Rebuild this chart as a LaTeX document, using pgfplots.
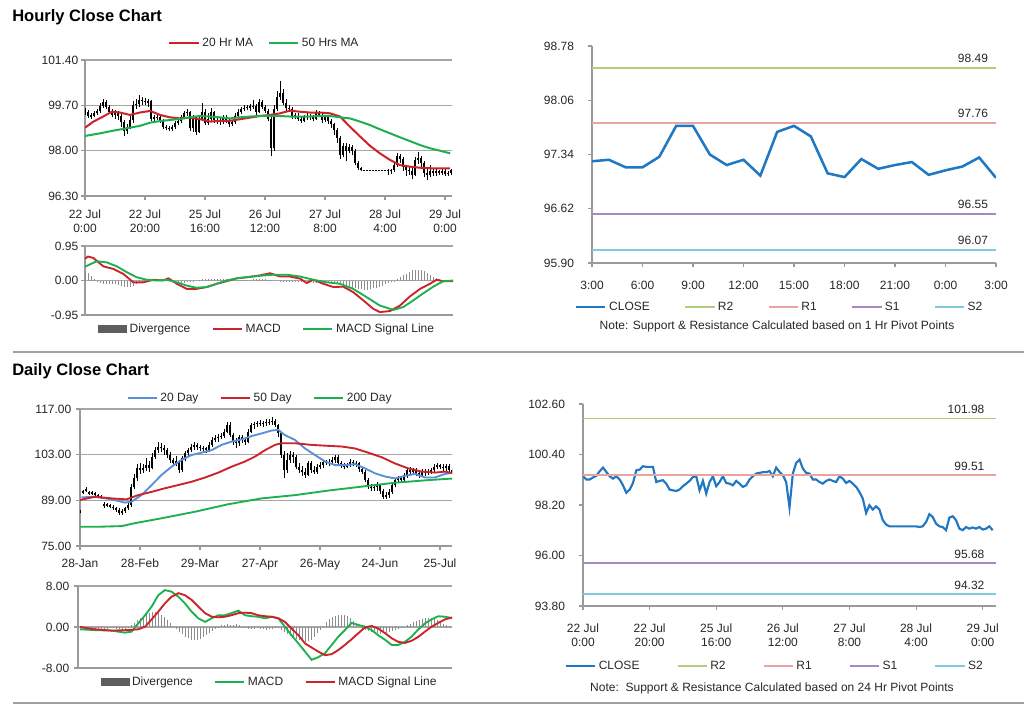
\documentclass[border=0pt]{standalone}
\usepackage{fontspec}
\setmainfont{Liberation Sans}
\usepackage{pgfplots}
\pgfplotsset{compat=1.18}
\usepackage{pgfplotstable}

\definecolor{gridc}{HTML}{A6A6A6}
\definecolor{axc}{HTML}{9A9A9A}
\definecolor{txt}{HTML}{262626}
\definecolor{mared}{HTML}{CC2229}
\definecolor{magreen}{HTML}{1DB04E}
\definecolor{mablue}{HTML}{5A8ED6}
\definecolor{closec}{HTML}{1F78C1}
\definecolor{r2c}{HTML}{B4CD7C}
\definecolor{r1c}{HTML}{E8A3A3}
\definecolor{s1c}{HTML}{A48AC4}
\definecolor{s2c}{HTML}{7FC8E0}
\definecolor{divc}{HTML}{8C8C8C}
\definecolor{divleg}{HTML}{5E5E5E}
\definecolor{sepc}{HTML}{A0A0A0}

\pgfplotsset{
  /pgf/number format/assume math mode=true,
  panel/.style={
    scale only axis, anchor=north west,
    axis x line*=bottom, axis y line*=left,
    axis line style={draw=axc, line width=0.8pt},
    tick style={draw=axc, line width=0.8pt},
    tick align=outside, major tick length=3pt,
    tick label style={font=\fontsize{9}{10.5}\selectfont, text=txt},
    legend style={draw=none, fill=none, font=\fontsize{9}{10.5}\selectfont, text=txt, inner sep=0pt},
    legend cell align=left, legend columns=-1,
    scaled ticks=false,
  },
  gridded/.style={ymajorgrids, grid style={draw=gridc, line width=0.8pt}},
  lg/.style={legend image code/.code={\draw[##1] (0pt,0pt) -- (22pt,0pt);}},
  barlg/.style={legend image code/.code={\fill[divleg] (0pt,-2.6pt) rectangle (21pt,2.6pt);}},
}

% hourly data: x close bodylow bodyhigh low high
\pgfplotstableread{
x c bl bh lo hi
0 99.45 99.45 99.50 99.35 99.60
1 99.31 99.31 99.45 99.22 99.52
2 99.31 99.28 99.34 99.20 99.42
3 99.40 99.31 99.40 99.25 99.50
4 99.47 99.40 99.47 99.33 99.58
5 99.67 99.47 99.67 99.40 99.78
6 99.83 99.67 99.83 99.60 99.92
7 99.64 99.64 99.83 99.55 99.90
8 99.45 99.45 99.64 99.36 99.70
9 99.35 99.35 99.45 99.25 99.55
10 99.45 99.35 99.45 99.20 99.52
11 99.31 99.31 99.45 99.15 99.50
12 99.06 99.06 99.31 98.90 99.40
13 98.73 98.73 99.06 98.55 99.15
14 98.87 98.73 98.87 98.62 99.00
15 99.16 98.87 99.16 98.80 99.30
16 99.71 99.16 99.71 99.05 99.85
17 99.74 99.71 99.74 99.55 99.95
18 99.89 99.74 99.89 99.65 100.10
19 99.86 99.86 99.89 99.70 100.00
20 99.86 99.84 99.88 99.70 99.98
21 99.86 99.80 99.86 99.65 99.95
22 99.20 99.20 99.86 99.10 99.90
23 99.25 99.20 99.25 99.12 99.35
24 99.28 99.25 99.28 99.15 99.38
25 99.13 99.13 99.28 99.05 99.35
26 98.87 98.87 99.13 98.80 99.20
27 98.84 98.84 98.87 98.78 98.95
28 98.81 98.81 98.84 98.75 98.92
29 98.87 98.81 98.87 98.75 98.95
30 99.02 98.87 99.02 98.80 99.10
31 99.13 99.02 99.13 98.95 99.20
32 99.25 99.13 99.25 99.05 99.35
33 99.42 99.25 99.42 99.20 99.50
34 99.45 99.42 99.45 99.30 99.55
35 98.84 98.84 99.45 98.75 99.50
36 99.25 98.84 99.25 98.70 99.35
37 98.70 98.70 99.25 98.60 99.30
38 99.20 98.70 99.20 98.65 99.30
39 99.45 99.20 99.45 99.10 99.80
40 99.02 99.02 99.45 98.95 99.55
41 99.20 99.02 99.20 98.95 99.40
42 99.45 99.20 99.45 99.10 99.60
43 99.16 99.16 99.45 99.05 99.50
44 99.13 99.13 99.16 99.00 99.30
45 99.06 99.06 99.13 98.98 99.25
46 99.25 99.06 99.25 99.00 99.35
47 99.13 99.13 99.25 99.05 99.32
48 98.99 98.99 99.13 98.90 99.20
49 99.06 98.99 99.06 98.92 99.15
50 99.31 99.06 99.31 99.00 99.40
51 99.45 99.31 99.45 99.25 99.55
52 99.57 99.45 99.57 99.38 99.65
53 99.60 99.57 99.60 99.50 99.70
54 99.63 99.60 99.63 99.52 99.72
55 99.63 99.60 99.66 99.50 99.75
56 99.68 99.63 99.68 99.55 99.90
57 99.45 99.45 99.68 99.35 99.75
58 99.83 99.45 99.83 99.40 99.95
59 99.64 99.64 99.83 99.55 99.90
60 99.50 99.50 99.64 99.40 99.70
61 99.20 99.20 99.50 99.10 99.55
62 98.09 98.09 99.20 97.80 99.25
63 99.57 98.09 99.57 98.00 99.70
64 100.03 99.57 100.03 99.50 100.25
65 100.18 100.03 100.18 99.90 100.62
66 99.79 99.79 100.18 99.70 100.30
67 99.60 99.60 99.79 99.50 99.95
68 99.57 99.57 99.60 99.45 99.70
69 99.31 99.31 99.57 99.20 99.62
70 99.31 99.28 99.34 99.18 99.42
71 99.20 99.20 99.31 99.12 99.40
72 99.13 99.13 99.20 99.05 99.30
73 99.25 99.13 99.25 99.08 99.35
74 99.31 99.25 99.31 99.15 99.40
75 99.25 99.25 99.31 99.15 99.38
76 99.20 99.20 99.25 99.10 99.32
77 99.45 99.20 99.45 99.15 99.52
78 99.35 99.35 99.45 99.25 99.50
79 99.16 99.16 99.35 99.05 99.40
80 99.25 99.16 99.25 99.08 99.32
81 99.13 99.13 99.25 99.00 99.30
82 98.99 98.99 99.13 98.85 99.20
83 98.77 98.77 98.99 98.60 99.05
84 98.48 98.48 98.77 98.30 98.85
85 97.85 97.85 98.48 97.70 98.55
86 98.19 97.85 98.19 97.75 98.30
87 98.00 98.00 98.19 97.60 98.30
88 98.14 98.00 98.14 97.90 98.25
89 98.00 98.00 98.14 97.85 98.20
90 97.54 97.54 98.00 97.45 98.05
91 97.35 97.35 97.54 97.28 97.60
92 97.27 97.27 97.35 97.22 97.40
93 97.27 97.26 97.28 97.25 97.29
94 97.27 97.26 97.28 97.25 97.29
95 97.27 97.26 97.28 97.25 97.29
96 97.27 97.26 97.28 97.25 97.29
97 97.27 97.26 97.28 97.25 97.29
98 97.27 97.26 97.28 97.25 97.29
99 97.27 97.26 97.28 97.25 97.29
100 97.27 97.26 97.28 97.25 97.29
101 97.24 97.24 97.27 97.10 97.30
102 97.27 97.24 97.27 97.12 97.32
103 97.46 97.27 97.46 97.20 97.55
104 97.80 97.46 97.80 97.40 97.90
105 97.68 97.68 97.80 97.55 97.88
106 97.39 97.39 97.68 97.25 97.75
107 97.27 97.27 97.39 97.05 97.45
108 97.24 97.24 97.27 97.10 97.40
109 97.10 97.10 97.24 96.95 97.35
110 97.65 97.10 97.65 97.05 97.75
111 97.71 97.65 97.71 97.50 97.95
112 97.54 97.54 97.71 97.40 97.80
113 97.17 97.17 97.54 97.00 97.60
114 97.10 97.10 97.17 96.90 97.30
115 97.24 97.10 97.24 97.00 97.45
116 97.17 97.17 97.24 97.05 97.35
117 97.22 97.17 97.22 97.05 97.30
118 97.17 97.17 97.22 97.08 97.28
119 97.24 97.17 97.24 97.10 97.30
120 97.13 97.13 97.24 97.05 97.30
121 97.17 97.13 97.17 97.05 97.25
122 97.27 97.17 97.27 97.10 97.32
123 97.10 97.10 97.27 97.02 97.30
}\hourly

% daily data: x bodylow bodyhigh low high
\pgfplotstableread{
x bl bh lo hi
0 85.3 85.7 85.0 86.0
1 91.2 91.8 90.8 92.2
2 91.8 92.5 91.5 93.0
3 91.0 91.6 90.7 92.0
4 91.0 91.5 90.6 91.9
5 90.6 91.2 90.3 91.6
6 90.3 90.6 90.0 91.0
7 89.9 90.3 89.5 90.7
8 87.3 88.0 86.8 88.5
9 87.3 87.8 86.9 88.3
10 87.1 87.6 86.6 88.0
11 86.5 87.1 86.0 87.6
12 86.0 86.5 85.5 87.0
13 85.2 86.0 84.5 86.5
14 85.2 85.6 84.6 86.4
15 85.6 86.5 85.2 87.0
16 86.5 87.5 86.0 88.5
17 87.5 93.0 87.0 94.0
18 93.0 95.7 92.5 97.0
19 95.7 98.8 95.0 100.0
20 98.3 98.8 97.0 100.5
21 98.3 99.0 97.5 100.2
22 99.0 99.8 98.0 102.0
23 99.0 99.8 97.8 101.0
24 99.0 102.4 98.5 103.5
25 102.4 104.4 101.8 105.5
26 104.4 105.5 103.5 106.8
27 104.9 105.5 103.8 106.5
28 104.4 104.9 103.0 106.0
29 103.0 104.4 102.0 105.0
30 101.4 103.0 100.5 103.8
31 100.3 101.4 99.5 102.0
32 100.3 101.0 99.5 102.5
33 98.3 101.0 97.5 101.5
34 98.3 101.9 97.8 102.5
35 101.9 103.4 101.0 104.0
36 103.4 104.4 102.5 105.0
37 104.4 105.5 103.8 106.2
38 105.5 106.0 104.5 106.8
39 105.5 106.0 104.5 106.5
40 105.0 105.5 104.0 106.0
41 104.9 105.0 103.8 105.8
42 104.4 104.9 103.5 105.5
43 104.4 106.0 103.8 107.0
44 106.0 107.5 105.5 108.5
45 107.5 108.0 106.8 109.0
46 108.0 108.5 107.0 109.2
47 108.5 108.7 107.8 109.5
48 108.7 110.1 108.0 111.0
49 110.1 112.1 109.5 113.0
50 109.0 112.1 108.5 113.0
51 107.0 109.0 106.0 109.5
52 106.5 107.0 105.0 108.0
53 106.5 108.5 105.8 109.0
54 107.5 108.5 106.5 109.0
55 107.0 107.5 106.0 108.2
56 107.0 110.1 106.5 111.0
57 110.1 112.1 109.5 112.8
58 112.1 112.4 111.0 113.0
59 112.4 112.6 111.5 113.2
60 112.6 112.8 111.8 113.5
61 112.6 112.8 111.5 113.4
62 112.6 113.1 111.8 114.0
63 112.8 113.1 112.0 113.8
64 113.1 113.4 112.0 114.5
65 112.1 113.4 111.5 114.0
66 109.5 112.1 108.5 112.5
67 103.0 109.5 102.0 110.0
68 98.3 103.0 96.0 104.0
69 98.3 101.4 97.5 103.5
70 101.4 103.0 100.5 104.0
71 102.4 103.0 100.5 103.8
72 99.3 102.4 98.5 103.0
73 98.3 99.3 97.5 100.5
74 97.8 98.3 96.5 99.5
75 96.8 97.8 96.0 99.0
76 96.8 100.3 96.5 101.0
77 98.3 100.3 97.5 101.0
78 97.8 98.3 97.0 99.5
79 97.8 99.3 97.2 100.0
80 99.3 99.8 98.5 100.8
81 99.8 100.9 99.0 101.5
82 100.5 100.9 99.8 101.5
83 100.5 100.9 99.5 101.8
84 100.9 101.4 100.0 102.2
85 101.4 102.4 100.5 103.0
86 100.3 102.4 99.5 102.8
87 99.8 100.3 99.0 101.0
88 99.3 99.8 98.5 100.5
89 99.3 99.8 98.8 100.5
90 99.8 100.9 99.2 101.8
91 100.3 100.9 99.5 101.5
92 100.0 100.3 99.2 101.0
93 98.5 100.3 97.8 100.8
94 97.8 98.5 97.0 99.0
95 95.2 97.8 94.5 98.2
96 93.2 95.2 92.5 95.8
97 92.7 93.2 91.8 94.0
98 92.7 93.2 92.0 94.0
99 93.2 93.7 92.0 94.5
100 92.0 93.7 91.0 94.0
101 90.1 92.0 89.5 92.5
102 90.1 90.6 89.5 91.5
103 90.6 91.6 89.8 92.5
104 91.6 93.7 91.0 94.5
105 93.7 95.2 93.0 95.8
106 95.2 95.7 94.5 96.5
107 95.2 95.7 94.5 96.2
108 95.2 96.8 94.8 97.5
109 96.8 98.3 96.0 99.0
110 97.8 98.3 97.0 99.2
111 97.8 98.3 96.8 99.0
112 97.3 98.3 96.5 98.8
113 96.8 97.3 96.0 98.0
114 96.8 97.8 96.2 98.5
115 97.3 97.8 96.5 98.5
116 97.3 97.8 96.8 98.6
117 97.8 98.3 97.0 99.0
118 98.3 99.3 97.8 100.0
119 99.3 99.8 98.5 100.5
120 99.3 99.8 98.5 100.2
121 98.8 99.3 98.0 100.0
122 98.8 99.5 98.0 100.2
123 98.3 99.5 97.8 100.0
124 97.8 98.3 97.0 98.8
}\daily

% hourly MACD divergence (one value per hour)
\pgfplotstableread{
d
0.25
0.20
0.12
0.04
-0.04
-0.08
-0.10
-0.11
-0.10
-0.10
-0.11
-0.13
-0.15
-0.17
-0.19
-0.18
-0.14
-0.10
-0.06
-0.03
0.0
-0.01
0.0
0.01
0.0
0.02
0.02
0.01
0.0
-0.02
-0.04
-0.06
-0.07
-0.06
-0.05
-0.04
-0.02
0.0
0.01
0.03
0.04
0.05
0.05
0.05
0.04
0.04
0.03
0.03
0.02
0.02
0.02
0.01
0.01
0.01
0.02
0.02
0.03
0.03
0.04
0.04
0.03
0.02
0.02
0.01
0.0
-0.01
-0.01
-0.02
-0.03
-0.03
-0.04
-0.05
-0.04
-0.04
-0.05
-0.05
-0.06
-0.06
-0.07
-0.07
-0.08
-0.05
-0.06
-0.08
-0.10
-0.12
-0.14
-0.16
-0.18
-0.20
-0.22
-0.23
-0.24
-0.25
-0.25
-0.24
-0.22
-0.20
-0.17
-0.14
-0.10
-0.07
-0.04
-0.01
0.04
0.09
0.14
0.19
0.24
0.28
0.30
0.30
0.28
0.25
0.21
0.16
0.11
0.07
0.04
0.02
0.01
0.0
0.0
}\hdiv

% daily MACD divergence (one value per day)
\pgfplotstableread{
d
-0.2
-0.3
-0.3
-0.3
-0.4
-0.4
-0.4
-0.3
-0.3
-0.3
-0.2
-0.2
-0.3
-0.4
-0.5
-0.4
-0.2
0.3
0.8
1.3
1.8
2.2
2.5
2.7
2.9
3.0
2.8
2.4
1.9
1.3
0.7
0.2
-0.4
-0.9
-1.4
-1.9
-2.2
-2.5
-2.6
-2.5
-2.3
-2.0
-1.6
-1.2
-0.8
-0.4
-0.1
0.3
0.4
0.5
0.4
0.4
0.5
0.3
-0.1
-0.2
-0.3
-0.4
-0.3
-0.2
-0.3
-0.4
-0.5
-0.4
-0.3
-0.2
-0.2
-0.5
-0.9
-1.3
-1.7
-2.0
-2.3
-2.5
-2.7
-2.9
-2.8
-2.5
-1.9
-1.2
-0.5
0.2
0.9
1.5
2.0
2.2
2.3
2.3
2.3
2.2
1.8
1.1
0.5
0.0
-0.3
-0.6
-0.8
-1.0
-1.1
-1.2
-1.3
-1.2
-1.1
-1.0
-0.8
-0.6
-0.4
-0.2
0.0
0.3
0.6
0.9
1.2
1.4
1.6
1.7
1.8
1.7
1.6
1.3
1.0
0.6
0.3
0.2
0.1
}\ddiv

\begin{document}
\begin{tikzpicture}
\useasboundingbox (0,0) rectangle (768pt,-529.5pt);

% titles and separators
\node[anchor=base west, inner sep=0pt, font=\bfseries\fontsize{12.4}{14}\selectfont, text=black] at (9pt,-16.3pt) {Hourly Close Chart};
\node[anchor=base west, inner sep=0pt, font=\bfseries\fontsize{12.4}{14}\selectfont, text=black] at (9pt,-281.25pt) {Daily Close Chart};
\draw[sepc, line width=1.5pt] (9.75pt,-264pt) -- (768pt,-264pt);
\draw[sepc, line width=1.5pt] (9.75pt,-527.25pt) -- (768pt,-527.25pt);

% ---------- A: hourly candles ----------
\begin{axis}[panel, gridded, at={(63.75pt,-45pt)}, width=275.25pt, height=102pt,
  xmin=0, xmax=122.33, ymin=96.3, ymax=101.4,
  ytick={96.3,98,99.7,101.4}, yticklabels={96.30,98.00,99.70,101.40},
  yticklabel style={xshift=1.5pt},
  xtick={0,20,40,60,80,100,120},
  xticklabels={{22 Jul\\0:00},{22 Jul\\20:00},{25 Jul\\16:00},{26 Jul\\12:00},{27 Jul\\8:00},{28 Jul\\4:00},{29 Jul\\0:00}},
  xticklabel style={align=center, yshift=-4pt},
  legend style={at={(0.49,1.125)}, anchor=center, /tikz/every even column/.append style={column sep=9pt}},
]
\addplot[forget plot, draw=none, mark=none, error bars/.cd, y dir=plus, y explicit, error mark=none,
  error bar style={draw=black, line width=0.75pt}]
  table[x=x, y=lo, y error expr=\thisrow{hi}-\thisrow{lo}] {\hourly};
\addplot[forget plot, draw=none, mark=none, error bars/.cd, y dir=plus, y explicit, error mark=none,
  error bar style={draw=black, line width=1.6pt}]
  table[x=x, y=bl, y error expr=\thisrow{bh}-\thisrow{bl}] {\hourly};
\addplot[lg, mared, line width=1.5pt, mark=none] coordinates {
(0,98.86) (2.8,99.09) (6.1,99.28) (8.9,99.46) (11.7,99.43) (15,99.34) (18.3,99.43) (21.7,99.49) (25,99.34) (28.3,99.25) (31.7,99.21) (35,99.24) (38.3,99.18) (41.7,99.09) (45,99.12) (48.3,99.12) (51.7,99.18) (55,99.24) (58.3,99.30) (61.7,99.34) (65,99.40) (68.3,99.50) (71.7,99.46) (75,99.43) (78.3,99.43) (81.7,99.40) (85,99.28) (88.3,98.90) (91.7,98.53) (95,98.18) (98.3,97.90) (101.7,97.65) (105,97.46) (108.3,97.40) (111.7,97.36) (115,97.34) (118.3,97.34) (121.7,97.34)};
\addlegendentry{20 Hr MA}
\addplot[lg, magreen, line width=1.5pt, mark=none] coordinates {
(0,98.55) (5,98.65) (9.4,98.75) (13.9,98.84) (18.3,98.93) (21.7,99.05) (25,99.11) (28.3,99.15) (31.7,99.19) (35,99.25) (38.3,99.30) (41.7,99.28) (45,99.25) (48.3,99.21) (51.7,99.25) (55,99.28) (58.3,99.30) (61.7,99.30) (65,99.30) (68.3,99.28) (71.7,99.28) (75,99.28) (78.3,99.30) (81.7,99.30) (85,99.25) (88.3,99.21) (91.7,99.09) (95,98.96) (98.3,98.80) (101.7,98.65) (105,98.50) (108.3,98.36) (111.7,98.21) (115,98.09) (118.3,98.00) (121.7,97.90)};
\addlegendentry{50 Hrs MA}
\end{axis}

% ---------- B: hourly MACD ----------
\begin{axis}[panel, gridded, at={(63.75pt,-184.5pt)}, width=276pt, height=51.75pt,
  xmin=0, xmax=122.67, ymin=-0.95, ymax=0.95,
  ytick={-0.95,0,0.95}, yticklabels={-0.95,0.00,0.95},
  yticklabel style={xshift=1.5pt},
  xtick=\empty,
  legend style={at={(0.496,-0.203)}, anchor=center, /tikz/every even column/.append style={column sep=14pt}},
]
\addplot[barlg, ycomb, draw=divc, line width=0.5pt, mark=none] table[x expr=\coordindex, y=d] {\hdiv};
\addlegendentry{Divergence}
\addplot[lg, mared, line width=1.4pt, mark=none] coordinates {
(0,0.60) (1,0.66) (2.8,0.62) (6.1,0.39) (9.4,0.32) (12.8,0.18) (16.1,-0.05) (19.4,-0.05) (22.8,0.02) (26.1,0) (27.8,0.06) (30.6,-0.09) (33.9,-0.23) (37.2,-0.23) (40.6,-0.18) (43.9,-0.09) (47.2,-0.02) (50.6,0.06) (53.9,0.09) (58.3,0.14) (61.7,0.20) (65,0.11) (68.3,0.11) (71.7,0.05) (73.9,-0.07) (76.1,0.02) (79.4,-0.09) (82.8,-0.18) (86.1,-0.17) (89.4,-0.32) (92.8,-0.55) (96.1,-0.78) (98.3,-0.87) (101.7,-0.84) (105,-0.69) (108.3,-0.44) (111.7,-0.23) (115,-0.09) (117.2,0.02) (119.4,-0.02) (122.8,-0.02)};
\addlegendentry{MACD}
\addplot[lg, magreen, line width=1.4pt, mark=none] coordinates {
(0,0.38) (3.9,0.53) (7.2,0.50) (10.6,0.39) (13.9,0.23) (17.2,0.09) (20.6,0.02) (23.9,0) (27.2,0.02) (30.6,-0.05) (33.9,-0.14) (37.2,-0.20) (40.6,-0.18) (43.9,-0.09) (47.2,0) (50.6,0.06) (53.9,0.09) (58.3,0.13) (62.8,0.16) (67.2,0.16) (71.7,0.11) (76.1,0.02) (80.6,-0.05) (85,-0.09) (89.4,-0.23) (93.9,-0.46) (98.3,-0.69) (102.8,-0.81) (106.1,-0.73) (109.4,-0.55) (112.8,-0.35) (116.1,-0.17) (119.4,-0.02) (122.8,0)};
\addlegendentry{MACD Signal Line}
\end{axis}

% ---------- C: hourly close with 1 Hr pivots ----------
\begin{axis}[panel, at={(444pt,-34.5pt)}, width=303pt, height=162.75pt,
  xmin=0, xmax=24, ymin=95.9, ymax=98.78,
  ytick={95.9,96.62,97.34,98.06,98.78}, yticklabels={95.90,96.62,97.34,98.06,98.78},
  yticklabel style={xshift=-7pt},
  xtick={0,3,...,24}, xticklabels={3:00,6:00,9:00,12:00,15:00,18:00,21:00,0:00,3:00},
  xticklabel style={yshift=-7pt},
  legend style={at={(0.465,-0.203)}, anchor=center, /tikz/every even column/.append style={column sep=24pt}},
]
\addplot[lg, closec, line width=1.9pt, mark=none] coordinates {
(0,97.25) (1,97.27) (2,97.17) (3,97.17) (4,97.31) (5,97.72) (6,97.72) (7,97.34) (8,97.20) (9,97.27) (10,97.06) (11,97.64) (12,97.72) (13,97.58) (14,97.09) (15,97.04) (16,97.28) (17,97.15) (18,97.20) (19,97.24) (20,97.07) (21,97.13) (22,97.18) (23,97.30) (24,97.03)};
\addlegendentry{CLOSE}
\addplot[lg, r2c, line width=1.1pt] coordinates {(0,98.49) (24,98.49)};
\addlegendentry{R2}
\addplot[lg, r1c, line width=1.1pt] coordinates {(0,97.76) (24,97.76)};
\addlegendentry{R1}
\addplot[lg, s1c, line width=1.1pt] coordinates {(0,96.55) (24,96.55)};
\addlegendentry{S1}
\addplot[lg, s2c, line width=1.1pt] coordinates {(0,96.07) (24,96.07)};
\addlegendentry{S2}
\begin{scope}[every node/.style={anchor=south east, font=\fontsize{9}{10.5}\selectfont, text=txt, inner sep=2pt, yshift=2pt}]
\node at (axis cs:23.7,98.49) {98.49};
\node at (axis cs:23.7,97.76) {97.76};
\node at (axis cs:23.7,96.55) {96.55};
\node at (axis cs:23.7,96.07) {96.07};
\end{scope}
\end{axis}
\node[font=\fontsize{9}{10.5}\selectfont, text=txt] at (582.75pt,-244.5pt) {Note: Support \& Resistance Calculated based on 1 Hr Pivot Points};

% ---------- D: daily candles ----------
\begin{axis}[panel, gridded, at={(60pt,-306.75pt)}, width=279pt, height=102.75pt,
  xmin=0, xmax=124, ymin=75, ymax=117,
  ytick={75,89,103,117}, yticklabels={75.00,89.00,103.00,117.00},
  xtick={0,20,40,60,80,100,120},
  xticklabels={28-Jan,28-Feb,29-Mar,27-Apr,26-May,24-Jun,25-Jul},
  xticklabel style={yshift=-3pt},
  legend style={at={(0.485,1.08)}, anchor=center, /tikz/every even column/.append style={column sep=14pt}},
]
\addplot[forget plot, draw=none, mark=none, error bars/.cd, y dir=plus, y explicit, error mark=none,
  error bar style={draw=black, line width=0.75pt}]
  table[x=x, y=lo, y error expr=\thisrow{hi}-\thisrow{lo}] {\daily};
\addplot[forget plot, draw=none, mark=none, error bars/.cd, y dir=plus, y explicit, error mark=none,
  error bar style={draw=black, line width=1.9pt}]
  table[x=x, y=bl, y error expr=\thisrow{bh}-\thisrow{bl}] {\daily};
\addplot[lg, mablue, line width=1.4pt, mark=none] coordinates {
(0.5,89.9) (5,90.1) (10.5,89.3) (15,88.3) (17.2,88.6) (20.5,90.6) (23.9,93.7) (27.2,96.8) (30.5,99.3) (33.9,101.4) (37.2,102.9) (40.5,103.6) (43.9,104.4) (47.2,106.0) (50.5,107.0) (53.9,107.7) (57.2,108.7) (60.5,109.5) (63.9,110.4) (66.1,110.6) (68.3,109.0) (71.7,107.5) (75,104.9) (78.3,102.9) (81.7,100.9) (85,99.8) (88.3,99.8) (91.7,100.1) (95,98.8) (98.3,97.3) (101.7,96.3) (105,95.7) (108.3,96.5) (111.7,97.1) (115,96.0) (118.3,96.0) (121.7,97.1) (124.4,97.5)};
\addlegendentry{20 Day}
\addplot[lg, mared, line width=1.4pt, mark=none] coordinates {
(0,89.1) (5,90.1) (10.5,89.6) (15.5,89.3) (19.4,90.6) (23.9,91.6) (28.3,92.7) (32.8,93.7) (37.2,94.7) (41.7,96.0) (46.1,97.5) (50.5,99.3) (55,100.9) (58.3,102.4) (61.7,104.4) (65,106.0) (67.2,106.5) (71.7,106.5) (77.2,106.0) (82.8,105.7) (87.2,105.5) (91.7,104.9) (96.1,103.6) (100.6,102.2) (105,100.3) (109.4,98.8) (113.9,97.8) (118.3,97.5) (121.7,97.8) (124.4,97.3)};
\addlegendentry{50 Day}
\addplot[lg, magreen, line width=1.4pt, mark=none] coordinates {
(0,80.9) (6.1,80.9) (13.9,81.1) (18.3,82.0) (27.2,83.5) (38.3,85.5) (49.4,87.8) (60.6,89.6) (71.7,90.6) (82.8,92.0) (93.9,93.2) (105,94.4) (116.1,95.2) (124.4,95.7)};
\addlegendentry{200 Day}
\end{axis}

% ---------- E: daily MACD ----------
\begin{axis}[panel, gridded, at={(58.5pt,-439.5pt)}, width=280.5pt, height=61.5pt,
  xmin=-0.67, xmax=124, ymin=-8, ymax=8,
  ytick={-8,0,8}, yticklabels={-8.00,0.00,8.00},
  xtick=\empty,
  legend style={at={(0.513,-0.171)}, anchor=center, /tikz/every even column/.append style={column sep=14pt}},
]
\addplot[barlg, ycomb, draw=divc, line width=0.6pt, mark=none] table[x expr=\coordindex, y=d] {\ddiv};
\addlegendentry{Divergence}
\addplot[lg, magreen, line width=1.4pt, mark=none] coordinates {
(0,-0.45) (5,-0.6) (10.5,-0.7) (15,-1.1) (17.2,-0.9) (19.4,0.7) (21.7,2.3) (23.9,4.0) (26.1,6.2) (28.3,7.2) (30.5,6.9) (32.8,5.9) (35,4.6) (37.2,3.0) (39.4,1.7) (41.7,1.0) (43.9,1.7) (46.1,2.3) (48.3,2.3) (50.5,2.7) (52.8,3.2) (55,2.3) (57.2,2.1) (59.4,2.0) (61.7,1.7) (63.9,2.0) (66.1,1.7) (68.3,0.06) (70.5,-1.6) (72.8,-3.2) (75,-4.8) (77.2,-6.4) (79.4,-5.9) (81.7,-5.1) (83.9,-3.5) (86.1,-1.9) (88.3,-0.6) (90.5,0.8) (92.8,0.4) (95,0.06) (97.2,-0.6) (99.4,-1.6) (101.7,-2.5) (103.9,-3.5) (106.1,-3.5) (108.3,-2.9) (110.5,-1.9) (112.8,-0.45) (115,0.7) (117.2,1.5) (119.4,2.1) (121.7,2.0) (124.4,1.7)};
\addlegendentry{MACD}
\addplot[lg, mared, line width=1.4pt, mark=none] coordinates {
(0,0) (5,-0.45) (10.5,-0.7) (16.1,-0.6) (19.4,-0.45) (21.7,0.06) (23.9,1.5) (26.1,3.0) (28.3,4.6) (30.5,5.9) (32.8,6.6) (35,6.2) (37.2,5.3) (39.4,4.0) (41.7,2.7) (43.9,2.0) (46.1,1.9) (48.3,2.0) (50.5,2.3) (52.8,2.7) (55,2.8) (57.2,2.7) (59.4,2.3) (61.7,2.1) (63.9,2.0) (66.1,1.7) (68.3,1.0) (70.5,-0.3) (72.8,-1.6) (75,-3.2) (79.4,-4.8) (81.7,-5.5) (83.9,-5.3) (86.1,-4.5) (88.3,-3.5) (90.5,-2.4) (92.8,-1.2) (95,-0.06) (97.2,0.2) (99.4,-0.3) (101.7,-1.2) (103.9,-2.2) (106.1,-2.9) (108.3,-3.1) (110.5,-2.7) (112.8,-1.9) (115,-0.9) (117.2,0.06) (119.4,0.8) (121.7,1.5) (124.4,1.9)};
\addlegendentry{MACD Signal Line}
\end{axis}

% ---------- F: hourly close with 24 Hr pivots ----------
\begin{axis}[panel, at={(437.25pt,-303pt)}, width=309.75pt, height=151.5pt,
  xmin=0, xmax=124, ymin=93.8, ymax=102.6,
  ytick={93.8,96,98.2,100.4,102.6}, yticklabels={93.80,96.00,98.20,100.40,102.60},
  yticklabel style={xshift=-7pt},
  xtick={0,20,40,60,80,100,120},
  xticklabels={{22 Jul\\0:00},{22 Jul\\20:00},{25 Jul\\16:00},{26 Jul\\12:00},{27 Jul\\8:00},{28 Jul\\4:00},{29 Jul\\0:00}},
  xticklabel style={align=center, yshift=-7pt},
  legend style={at={(0.465,-0.297)}, anchor=center, /tikz/every even column/.append style={column sep=26pt}},
]
\addplot[lg, closec, line width=1.6pt, mark=none] table[x=x, y=c] {\hourly};
\addlegendentry{CLOSE}
\addplot[lg, r2c, line width=1.1pt] coordinates {(0,101.98) (124,101.98)};
\addlegendentry{R2}
\addplot[lg, r1c, line width=1.1pt] coordinates {(0,99.51) (124,99.51)};
\addlegendentry{R1}
\addplot[lg, s1c, line width=1.1pt] coordinates {(0,95.68) (124,95.68)};
\addlegendentry{S1}
\addplot[lg, s2c, line width=1.1pt] coordinates {(0,94.32) (124,94.32)};
\addlegendentry{S2}
\begin{scope}[every node/.style={anchor=south east, font=\fontsize{9}{10.5}\selectfont, text=txt, inner sep=2pt, yshift=1pt}]
\node at (axis cs:121.4,101.98) {101.98};
\node at (axis cs:121.4,99.51) {99.51};
\node at (axis cs:121.4,95.68) {95.68};
\node at (axis cs:121.4,94.32) {94.32};
\end{scope}
\end{axis}
\node[font=\fontsize{9}{10.5}\selectfont, text=txt] at (579pt,-516pt) {Note:\ \ Support \& Resistance Calculated based on 24 Hr Pivot Points};

\end{tikzpicture}
\end{document}
